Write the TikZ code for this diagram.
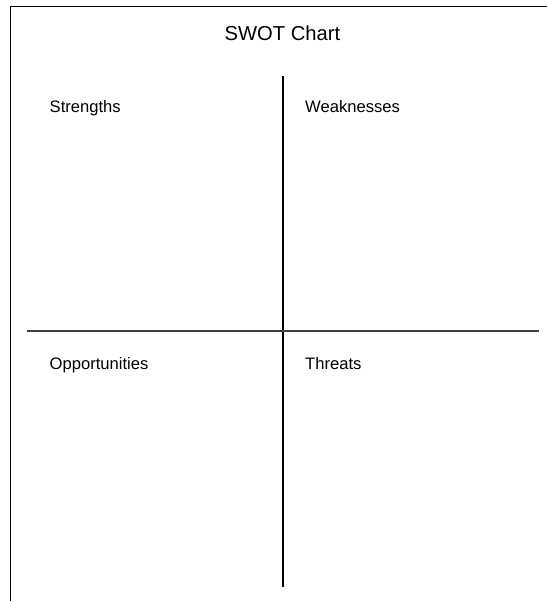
\documentclass[tikz,border=0pt]{standalone}
\usepackage{fontspec}
\setmainfont{Liberation Sans}
\begin{document}
\begin{tikzpicture}[x=1pt,y=-1pt,
  frame/.style={line width=1.3pt,black},
  divider/.style={line width=1.4pt,black!75},
  quad/.style={anchor=base west,inner sep=0pt,font=\fontsize{16.6}{20}\selectfont},
  titlestyle/.style={anchor=base,inner sep=0pt,font=\fontsize{20.2}{24}\selectfont}]
\useasboundingbox (0,0) rectangle (547,601);
\coordinate (tl) at (10.5,6.5);
\coordinate (tr) at (547,6.5);
\coordinate (bl) at (10.5,601);
\coordinate (vt) at (283,76);
\coordinate (vb) at (283,587);
\coordinate (hl) at (27,331);
\coordinate (hr) at (539,331);
\draw[frame] (bl) -- (tl) -- (tr);
\draw[frame] (vt) -- (vb);
\draw[divider] (hl) -- (hr);
\node[titlestyle] (title) at (282.5,40.7) {SWOT Chart};
\node[quad] (s) at (49.5,113) {Strengths};
\node[quad] (w) at (305,113) {Weaknesses};
\node[quad] (o) at (49.5,369) {Opportunities};
\node[quad] (t) at (305,369) {Threats};
\end{tikzpicture}
\end{document}
